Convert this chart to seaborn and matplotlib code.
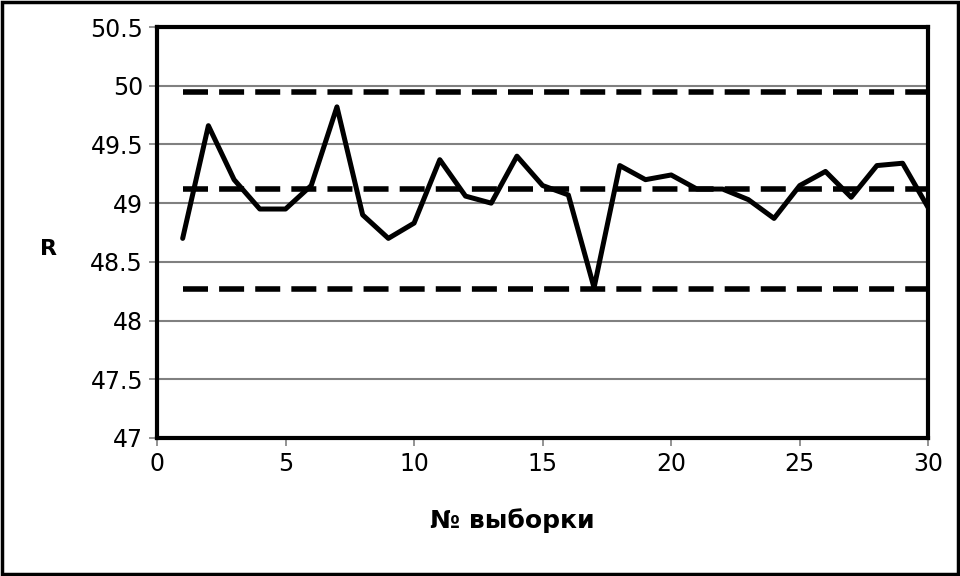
import matplotlib
matplotlib.use("Agg")
import matplotlib.pyplot as plt
import seaborn as sns
import pandas as pd

# sample numbers and measured R values
samples = list(range(1, 31))
r_values = [48.70, 49.66, 49.20, 48.95, 48.95, 49.15, 49.82, 48.90, 48.70, 48.83,
            49.37, 49.06, 49.00, 49.40, 49.15, 49.07, 48.28, 49.32, 49.20, 49.24,
            49.12, 49.12, 49.03, 48.87, 49.15, 49.27, 49.05, 49.32, 49.34, 48.96]

# control limits
ucl = 49.95
cl = 49.12
lcl = 48.27

df = pd.DataFrame({"sample": samples, "R": r_values})

sns.set_theme(style="white")
plt.rcParams["font.family"] = ["DejaVu Sans"]
plt.rcParams["text.color"] = "black"
plt.rcParams["axes.labelcolor"] = "black"
plt.rcParams["xtick.labelcolor"] = "black"
plt.rcParams["ytick.labelcolor"] = "black"

fig = plt.figure(figsize=(9.6, 5.76), dpi=100)
ax = fig.add_axes([0.1635, 0.2396, 0.8035, 0.7135])

ax.set_xlim(0, 30)
ax.set_ylim(47, 50.5)
ax.set_yticks([47, 47.5, 48, 48.5, 49, 49.5, 50, 50.5])
ax.set_yticklabels(["47", "47.5", "48", "48.5", "49", "49.5", "50", "50.5"])
ax.set_xticks([0, 5, 10, 15, 20, 25, 30])

ax.grid(axis="y", color="#808080", linewidth=1.5)
ax.set_axisbelow(True)

for level in (ucl, cl, lcl):
    ax.plot([samples[0], samples[-1]], [level, level], color="black",
            linewidth=4, linestyle=(0, (4.5, 2)), solid_capstyle="butt")

sns.lineplot(data=df, x="sample", y="R", color="black", linewidth=3.6, ax=ax)

for side in ax.spines.values():
    side.set_color("black")
    side.set_linewidth(3)

ax.tick_params(axis="both", which="both", direction="out", length=6, width=1.2,
               color="#808080", labelsize=17, pad=4, left=True, bottom=True,
               labelcolor="black")

ax.set_xlabel("№ выборки", fontsize=18, fontweight="bold", color="black")
ax.set_ylabel("R", fontsize=16, fontweight="bold", rotation=0, va="center", color="black")
ax.xaxis.set_label_coords(0.461, -0.172)
ax.yaxis.set_label_coords(-0.141, 0.459)

# outer frame around the whole picture
fig.patches.append(plt.Rectangle((0.002, 0.003), 0.996, 0.994, transform=fig.transFigure,
                                 fill=False, edgecolor="black", linewidth=2.5))

fig.savefig("out.png", dpi=100)
